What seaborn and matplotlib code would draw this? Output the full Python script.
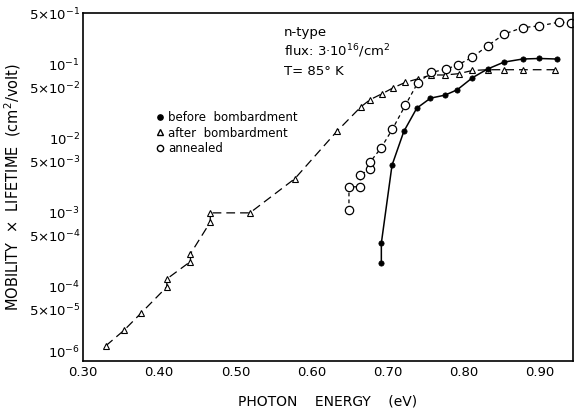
import numpy as np
import pandas as pd
from matplotlib import pyplot as plt
from matplotlib import ticker as ticker
from matplotlib.lines import Line2D
import seaborn as sns
sns.set_style('white', {'text.color': 'black', 'axes.labelcolor': 'black',
                        'xtick.color': 'black', 'ytick.color': 'black'})
plt.rcParams['font.family'] = ['DejaVu Sans']
plt.rcParams['mathtext.default'] = 'regular'

# after bombardment (triangles, long dashes)
after_x = [0.330, 0.354, 0.376, 0.410, 0.410, 0.441, 0.441, 0.467, 0.467, 0.519, 0.578,
           0.633, 0.665, 0.677, 0.693, 0.707, 0.723, 0.740, 0.757, 0.775, 0.793, 0.811,
           0.831, 0.852, 0.877, 0.919]
after_y = [1.6e-5, 2.6e-5, 4.4e-5, 1.0e-4, 1.28e-4, 2.2e-4, 2.8e-4, 7.5e-4, 1.0e-3, 1.0e-3, 2.9e-3,
           1.26e-2, 2.73e-2, 3.4e-2, 4.1e-2, 4.9e-2, 5.8e-2, 6.5e-2, 7.3e-2, 7.3e-2, 7.6e-2, 8.4e-2,
           8.6e-2, 8.6e-2, 8.6e-2, 8.6e-2]

# annealed (open circles, short dashes)
anneal_x = [0.649, 0.649, 0.664, 0.664, 0.677, 0.677, 0.691, 0.706, 0.723, 0.739, 0.757,
            0.776, 0.792, 0.811, 0.831, 0.853, 0.877, 0.899, 0.924, 0.941]
anneal_y = [1.09e-3, 2.25e-3, 2.25e-3, 3.27e-3, 3.9e-3, 4.9e-3, 7.5e-3, 1.35e-2, 2.85e-2, 5.66e-2, 7.9e-2,
            8.75e-2, 1.0e-1, 1.27e-1, 1.81e-1, 2.62e-1, 3.19e-1, 3.36e-1, 3.77e-1, 3.7e-1]

# before bombardment (filled dots, solid)
before_x = [0.6915, 0.6915, 0.7055, 0.721, 0.738, 0.756, 0.775, 0.791, 0.811, 0.831,
            0.8525, 0.877, 0.899, 0.9215]
before_y = [2.09e-4, 3.9e-4, 4.4e-3, 1.26e-2, 2.6e-2, 3.55e-2, 3.9e-2, 4.6e-2, 6.7e-2, 8.8e-2,
            0.109, 0.120, 0.122, 0.120]

ytick_vals = [5e-1, 1e-1, 5e-2, 1e-2, 5e-3, 1e-3, 5e-4, 1e-4, 5e-5, 1e-5]
ytick_labels = ['5×10$^{-1}$', '10$^{-1}$', '5×10$^{-2}$', '10$^{-2}$', '5×10$^{-3}$',
                '10$^{-3}$', '5×10$^{-4}$', '10$^{-4}$', '5×10$^{-5}$', '10$^{-6}$']
xtick_vals = [0.30, 0.40, 0.50, 0.60, 0.70, 0.80, 0.90]
xtick_labels = ['0.30', '0.40', '0.50', '0.60', '0.70', '0.80', '0.90']


fig = plt.figure(figsize=(5.79, 4.11), dpi=100)
ax = fig.add_axes([0.1434, 0.122, 0.8462, 0.846])

sns.lineplot(x=after_x, y=after_y, estimator=None, sort=False, color='black', lw=0.9,
             linestyle=(0, (7, 4)), marker='^', markersize=4.2, markerfacecolor='white',
             markeredgecolor='black', markeredgewidth=0.8, ax=ax)
sns.lineplot(x=anneal_x, y=anneal_y, estimator=None, sort=False, color='black', lw=0.9,
             linestyle=(0, (3, 2.5)), marker='o', markersize=6, markerfacecolor='white',
             markeredgecolor='black', markeredgewidth=0.9, ax=ax)
sns.lineplot(x=before_x, y=before_y, estimator=None, sort=False, color='black', lw=1.1,
             linestyle='-', marker='o', markersize=3.8, markerfacecolor='black',
             markeredgecolor='black', markeredgewidth=0.5, ax=ax)

ax.set_yscale('log')
ax.set_ylim(1e-5, 5e-1)
ax.set_xlim(0.30, 0.943)
ax.yaxis.set_major_locator(ticker.FixedLocator(ytick_vals))
ax.yaxis.set_major_formatter(ticker.FixedFormatter(ytick_labels))
ax.yaxis.set_minor_locator(ticker.LogLocator(base=10, subs=np.arange(2, 10)))
ax.yaxis.set_minor_formatter(ticker.NullFormatter())
ax.xaxis.set_major_locator(ticker.FixedLocator(xtick_vals))
ax.xaxis.set_major_formatter(ticker.FixedFormatter(xtick_labels))
ax.xaxis.set_minor_locator(ticker.MultipleLocator(0.05))

ax.tick_params(axis='both', which='both', direction='in', color='black', labelcolor='black')
ax.tick_params(axis='both', which='major', length=6, width=1, labelsize=9.5, pad=2)
ax.tick_params(axis='x', which='major', pad=4)
ax.tick_params(axis='y', which='minor', length=4, width=0.8)
ax.tick_params(axis='x', which='minor', length=6, width=1)
for s in ax.spines.values():
    s.set_color('black')
    s.set_linewidth(1.2)

# bottom y label sits just above the corner, as in the original
fig.canvas.draw()
ax.get_yticklabels()[-1].set_va('bottom')

ax.set_xlabel('PHOTON    ENERGY    (eV)', fontsize=10, labelpad=11, color='black')
ax.set_ylabel('MOBILITY  ×  LIFETIME  (cm$^2$/volt)', fontsize=10.5, labelpad=4, color='black')

ax.text(0.41, 0.945, 'n-type', transform=ax.transAxes, fontsize=9.5, va='center', color='black')
ax.text(0.41, 0.890, 'flux: 3·10$^{16}$/cm$^2$', transform=ax.transAxes, fontsize=9.5, va='center', color='black')
ax.text(0.41, 0.832, 'T= 85° K', transform=ax.transAxes, fontsize=9.5, va='center', color='black')

handles = [Line2D([], [], linestyle='none', marker='o', color='black', markersize=3.8),
           Line2D([], [], linestyle='none', marker='^', color='black', markersize=4.5,
                  markerfacecolor='white'),
           Line2D([], [], linestyle='none', marker='o', color='black', markersize=4.5,
                  markerfacecolor='white')]
leg = ax.legend(handles, ['before  bombardment', 'after  bombardment', 'annealed'],
                loc='upper left', bbox_to_anchor=(0.137, 0.735), frameon=False, fontsize=8.5,
                handlelength=0.6, handletextpad=0.4, labelspacing=0.2, borderpad=0)
for t in leg.get_texts():
    t.set_color('black')

plt.savefig('out.png', format='png', dpi=100)
print('finished')
